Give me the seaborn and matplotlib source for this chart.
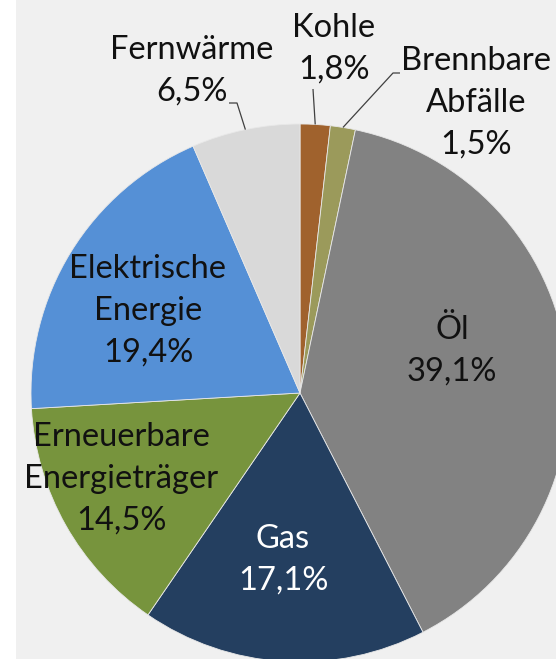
import numpy as np
import matplotlib
matplotlib.use("Agg")
import matplotlib.pyplot as plt
from matplotlib.patches import Rectangle
import seaborn as sns

# Anteile am Endenergieverbrauch, im Uhrzeigersinn ab 12 Uhr
labels = ["Kohle", "Brennbare\nAbfälle", "Öl", "Gas",
          "Erneuerbare\nEnergieträger", "Elektrische\nEnergie", "Fernwärme"]
shares = [1.8, 1.5, 39.1, 17.1, 14.5, 19.4, 6.5]
colors = ["#a0622d", "#9b9a5b", "#828282", "#243f60", "#77943d", "#5590d6", "#d9d9d9"]
text_colors = ["#111111", "#111111", "#111111", "#ffffff", "#111111", "#111111", "#111111"]

W, H = 556, 659
CX, CY, R = 300, 393, 269   # pie centre and radius in pixels

# label block centres in pixels (inside labels and outside labels)
label_pos = [(334, 49), (476, 103), (452, 351), (283, 560),
             (121, 479), (148, 311), (192, 71)]
# leader elbows for the small outside slices (None = no leader)
leader_elbow = [[(313, 89)], [(393, 73), (400, 73)], None, None, None, None,
                [(237, 103), (229, 103)]]


def px(x, y):
    return (x - CX) / R, (CY - y) / R


sns.set_theme(style="white")
plt.rcParams["font.family"] = ["Lato", "DejaVu Sans"]

fig = plt.figure(figsize=(W / 100, H / 100), dpi=100)
fig.patch.set_facecolor("white")
fig.patches.append(Rectangle((16 / W, 0), 1, 1, transform=fig.transFigure,
                             facecolor="#f0f0f0", edgecolor="none", zorder=-1))
ax = fig.add_axes([0, 0, 1, 1])
ax.set_facecolor("none")

wedges, _ = ax.pie(shares, colors=sns.color_palette(colors), startangle=90,
                   counterclock=False, radius=1,
                   wedgeprops=dict(linewidth=0.6, edgecolor="#e8e8e8"))

for i, w in enumerate(wedges):
    txt = labels[i] + "\n" + ("%.1f" % shares[i]).replace(".", ",") + "%"
    x, y = px(*label_pos[i])
    ax.text(x, y, txt, ha="center", va="center", fontsize=23.5,
            color=text_colors[i], linespacing=1.48)
    if leader_elbow[i] is not None:
        mid = np.deg2rad((w.theta1 + w.theta2) / 2)
        pts = [(np.cos(mid), np.sin(mid))] + [px(*p) for p in leader_elbow[i]]
        xs, ys = zip(*pts)
        ax.plot(xs, ys, color="#404040", lw=0.9, solid_capstyle="butt")

ax.axis("off")
x0, y0 = px(0, 0)
x1, y1 = px(W, H)
ax.set_xlim(x0, x1)
ax.set_ylim(y1, y0)
ax.set_aspect("auto")

fig.savefig("out.png", dpi=100)
